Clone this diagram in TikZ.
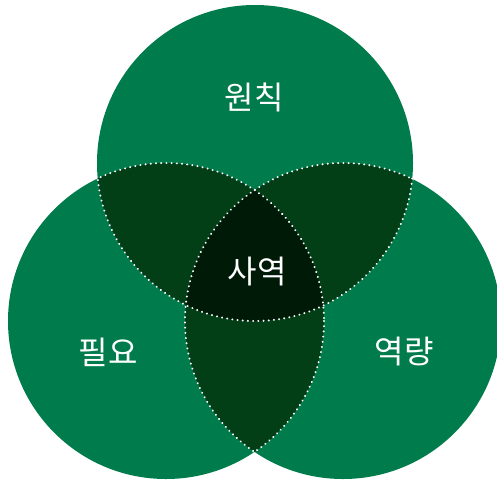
\documentclass[tikz,border=0pt]{standalone}
\usepackage{fontspec}
\newfontfamily\kr{Noto Sans CJK KR}
\definecolor{gmain}{RGB}{0,123,76}
\definecolor{gpair}{RGB}{2,62,22}
\definecolor{gcore}{RGB}{0,26,8}
\begin{document}
\begin{tikzpicture}[x=1pt,y=-1pt,
  lbl/.style={text=white,font=\kr\fontsize{32}{36}\selectfont,inner sep=0pt},
  dotline/.style={draw=white,line width=2.2pt,dash pattern=on 0.01pt off 5.2pt,line cap=round}]
\useasboundingbox (0,0) rectangle (497,482);
\def\R{158}
\def\Rc{159.2}
\coordinate (T) at (255,163);
\coordinate (L) at (166,321);
\coordinate (Rt) at (343,321);
% base circles
\fill[gmain] (T) circle (\R) (L) circle (\R) (Rt) circle (\R);
% pairwise
\begin{scope}\clip (T) circle (\R); \fill[gpair] (L) circle (\R) (Rt) circle (\R);\end{scope}
\begin{scope}\clip (L) circle (\R); \fill[gpair] (Rt) circle (\R);\end{scope}
% triple
\begin{scope}\clip (T) circle (\R); \clip (L) circle (\R); \fill[gcore] (Rt) circle (\R);\end{scope}
% dotted inner borders
\begin{scope}\clip (L) circle (\Rc) (Rt) circle (\Rc); \draw[dotline] (T) circle (\R);\end{scope}
\begin{scope}\clip (T) circle (\Rc) (Rt) circle (\Rc); \draw[dotline] (L) circle (\R);\end{scope}
\begin{scope}\clip (T) circle (\Rc) (L) circle (\Rc); \draw[dotline] (Rt) circle (\R);\end{scope}
% labels
\node[lbl] (a) at (254,97) {원칙};
\node[lbl] (b) at (257,272) {사역};
\node[lbl] (c) at (108,352) {필요};
\node[lbl] (d) at (404,352) {역량};
\end{tikzpicture}
\end{document}
